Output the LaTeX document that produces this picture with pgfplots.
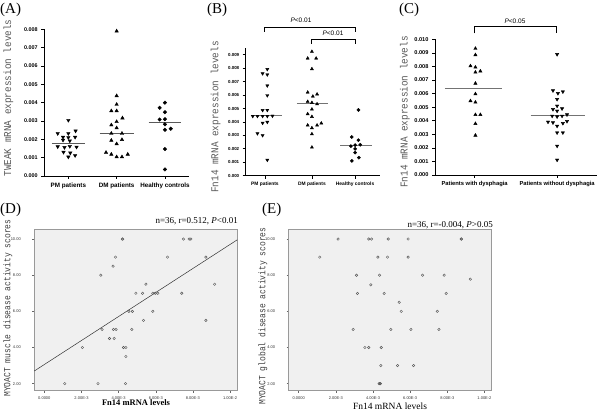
\documentclass[border=0pt]{standalone}
\usepackage{pgfplots}
\pgfplotsset{compat=1.18}
\usepackage{fontspec}
\setmainfont{Liberation Serif}
\setsansfont{Liberation Sans}
\newfontfamily\ylabA[FakeStretch=0.89]{Liberation Mono}
\newfontfamily\ylabD[FakeStretch=0.84]{Liberation Mono}
\pgfplotsset{
  dotaxis/.style={scale only axis, anchor=south west,
    axis x line*=bottom, axis y line*=left, tick align=outside,
    major tick length=3pt, axis line style={line width=0.8pt},
    every tick/.style={black,line width=0.7pt},
    scaled y ticks=false, clip=false},
  scataxis/.style={scale only axis, anchor=south west,
    width=203pt, height=161.4pt,
    xmin=-0.00054, xmax=0.01039, ymin=1.61, ymax=10.54,
    axis background/.style={fill=black!6},
    axis line style={black!40, line width=0.6pt},
    tick align=outside, tick pos=left, major tick length=2pt,
    every tick/.style={black!60,line width=0.5pt},
    scaled x ticks=false, scaled y ticks=false,
    xtick={0,0.002,0.004,0.006,0.008,0.01},
    xticklabels={0.0000,2.00E-3,4.00E-3,6.00E-3,8.00E-3,1.00E-2},
    ytick={2,4,6,8,10},
    yticklabels={2.00,4.00,6.00,8.00,10.00},
    tick label style={font=\fontsize{4}{4.5}\selectfont\sffamily, text=black!80},
    yticklabel style={xshift=-8pt},
    clip=false},
  pdot/.style={only marks, mark=o, mark size=1.25pt, mark options={black!65, line width=0.45pt}}
}
\begin{document}
\begin{tikzpicture}[x=1pt,y=1pt]
\path[use as bounding box, fill=white] (0,0) rectangle (600,412);

% ---------------- (A)
\begin{axis}[dotaxis, at={(44.2pt,236pt)}, width=144.9pt, height=146.7pt,
  xmin=0.5, xmax=3.5, ymin=0, ymax=0.008,
  xtick={1,2,3}, xticklabels={PM patients,DM patients,Healthy controls},
  ytick={0,0.001,0.002,0.003,0.004,0.005,0.006,0.007,0.008},
  yticklabels={0.000,0.001,0.002,0.003,0.004,0.005,0.006,0.007,0.008},
  yticklabel style={font=\fontsize{5.4}{6}\selectfont\sffamily\bfseries},
  xticklabel style={font=\fontsize{6.3}{7}\selectfont\sffamily\bfseries}]
\addplot[only marks, mark=triangle*, mark size=2pt, mark options={black, rotate=180}] coordinates {
(1.00,0.00304) (0.78,0.00232) (1.00,0.00232) (1.15,0.00246) (0.89,0.00212)
(1.00,0.00210) (1.14,0.00212) (0.89,0.00196) (1.03,0.00192) (0.78,0.00160)
(0.92,0.00156) (1.03,0.00162) (1.17,0.00158) (0.90,0.00130) (1.04,0.00126)
(1.00,0.00104) (1.14,0.00112)};
\addplot[only marks, mark=triangle*, mark size=2pt, mark options={black}] coordinates {
(2.00,0.00790) (2.00,0.00437) (2.00,0.00390) (1.89,0.00355) (2.00,0.00355)
(2.12,0.00316) (2.00,0.00296) (1.89,0.00278) (2.00,0.00262) (1.89,0.00232)
(2.11,0.00232) (2.11,0.00198) (1.89,0.00194) (2.00,0.00175) (1.78,0.00128)
(1.89,0.00118) (2.00,0.00104) (2.11,0.00104) (2.23,0.00118)};
\addplot[only marks, mark=*, mark size=1.8pt, mark options={black}] coordinates {
(3.00,0.00400) (2.89,0.00372) (3.00,0.00348) (2.89,0.00308) (3.00,0.00310)
(3.00,0.00282) (3.00,0.00252) (3.12,0.00258) (3.00,0.00147) (3.00,0.00036)};
\addplot[no marks, black!65, line width=0.8pt] coordinates {(0.66,0.00177) (1.34,0.00177)};
\addplot[no marks, black!65, line width=0.8pt] coordinates {(1.65,0.00233) (2.35,0.00233)};
\addplot[no marks, black!65, line width=0.8pt] coordinates {(2.66,0.00293) (3.34,0.00293)};
\end{axis}

% ---------------- (B)
\begin{axis}[dotaxis, at={(245.7pt,236.3pt)}, width=134.3pt, height=127.7pt,
  xmin=0.59, xmax=3.45, ymin=0, ymax=0.0095,
  xtick={1,2,2.92}, xticklabels={PM patients,DM patients,Healthy controls},
  ytick={0,0.001,0.002,0.003,0.004,0.005,0.006,0.007,0.008,0.009},
  yticklabels={0.000,0.001,0.002,0.003,0.004,0.005,0.006,0.007,0.008,0.009},
  yticklabel style={font=\fontsize{4.4}{5}\selectfont\sffamily\bfseries},
  xticklabel style={font=\fontsize{4.9}{5.5}\selectfont\sffamily\bfseries}]
\addplot[only marks, mark=triangle*, mark size=1.8pt, mark options={black, rotate=180}] coordinates {
(1.05,0.00792) (0.95,0.00760) (1.05,0.00752) (1.05,0.00670) (1.05,0.00597)
(0.95,0.00487) (1.05,0.00488) (0.74,0.00443) (0.84,0.00443) (0.95,0.00443)
(1.05,0.00443) (1.16,0.00445) (0.95,0.00392) (1.05,0.00399) (0.84,0.00314)
(0.95,0.00300) (1.05,0.00117)};
\addplot[only marks, mark=triangle*, mark size=1.8pt, mark options={black}] coordinates {
(2.00,0.00923) (1.91,0.00873) (2.09,0.00873) (2.00,0.00794) (1.91,0.00620)
(2.02,0.00590) (2.11,0.00606) (1.91,0.00551) (2.00,0.00543) (2.11,0.00533)
(2.00,0.00494) (1.91,0.00459) (2.00,0.00439) (1.91,0.00375) (2.00,0.00355)
(2.11,0.00375) (2.20,0.00390) (2.00,0.00310) (2.00,0.00211)};
\addplot[only marks, mark=*, mark size=1.6pt, mark options={black}] coordinates {
(2.99,0.00489) (2.85,0.00288) (2.99,0.00264) (2.92,0.00228) (3.03,0.00230)
(2.83,0.00220) (2.92,0.00200) (2.92,0.00172) (3.00,0.00134) (2.85,0.00110)};
\addplot[no marks, black!55, line width=0.8pt] coordinates {(0.72,0.00445) (1.36,0.00445)};
\addplot[no marks, black!55, line width=0.8pt] coordinates {(1.68,0.00538) (2.35,0.00538)};
\addplot[no marks, black!55, line width=0.8pt] coordinates {(2.60,0.00226) (3.27,0.00226)};
\end{axis}

% ---------------- (C)
\begin{axis}[dotaxis, at={(435pt,237pt)}, width=161.7pt, height=135.7pt,
  xmin=0.52, xmax=2.48, ymin=0, ymax=0.010,
  xtick={1,2}, xticklabels={Patients with dysphagia,Patients without dysphagia},
  ytick={0,0.001,0.002,0.003,0.004,0.005,0.006,0.007,0.008,0.009,0.010},
  yticklabels={0.000,0.001,0.002,0.003,0.004,0.005,0.006,0.007,0.008,0.009,0.010},
  yticklabel style={font=\fontsize{5.6}{6}\selectfont\sffamily\bfseries},
  xticklabel style={font=\fontsize{5.8}{6.5}\selectfont\sffamily\bfseries}]
\addplot[only marks, mark=triangle*, mark size=1.9pt, mark options={black}] coordinates {
(1.01,0.00932) (1.01,0.00885) (0.95,0.00803) (1.01,0.00794) (1.01,0.00757)
(1.07,0.00765) (1.01,0.00675) (1.01,0.00597) (0.95,0.00546) (1.01,0.00536)
(1.01,0.00444) (1.07,0.00444) (1.01,0.00378) (1.01,0.00292)};
\addplot[only marks, mark=triangle*, mark size=1.9pt, mark options={black, rotate=180}] coordinates {
(2.00,0.00889) (1.95,0.00622) (2.07,0.00614) (2.01,0.00602) (2.00,0.00558)
(2.00,0.00509) (1.95,0.00484) (2.06,0.00489) (2.00,0.00472) (1.94,0.00435)
(2.00,0.00430) (2.06,0.00435) (2.12,0.00445) (1.89,0.00391) (1.95,0.00386)
(2.00,0.00361) (2.07,0.00381) (2.12,0.00396) (2.00,0.00312) (2.07,0.00312)
(2.00,0.00214) (2.00,0.00111)};
\addplot[no marks, black!55, line width=0.8pt] coordinates {(0.64,0.00636) (1.33,0.00636)};
\addplot[no marks, black!55, line width=0.8pt] coordinates {(1.68,0.00437) (2.34,0.00437)};
\end{axis}

% ---------------- (D)
\begin{axis}[scataxis, at={(34.3pt,21.3pt)}]
\addplot[pdot] coordinates {
(0.00422,10) (0.00420,10) (0.00749,10) (0.00780,10) (0.00789,10)
(0.00383,9) (0.00663,9) (0.00870,9)
(0.00370,8.5) (0.00304,8)
(0.00547,7.5) (0.00917,7.5)
(0.00493,7) (0.00529,7) (0.00584,7) (0.00597,7) (0.00611,7) (0.00740,7)
(0.00455,6) (0.00474,6) (0.00584,6)
(0.00534,5.5) (0.00870,5.5)
(0.00311,5) (0.00372,5) (0.00386,5) (0.00471,5)
(0.00351,4.5) (0.00376,4.5)
(0.00205,4) (0.00426,4) (0.00439,4)
(0.00439,3.5)
(0.00110,2) (0.00289,2) (0.00437,2)};
\addplot[no marks, black!80, line width=0.5pt] coordinates {(-0.00054,2.70) (0.01039,9.96)};
\end{axis}

% ---------------- (E)
\begin{axis}[scataxis, at={(288.7pt,21.3pt)}]
\addplot[pdot] coordinates {
(0.00212,10) (0.00377,10) (0.00392,10) (0.00482,10) (0.00589,10) (0.00875,10) (0.00876,10)
(0.00113,9) (0.00426,9) (0.00478,9) (0.00589,9)
(0.00311,8) (0.00435,8) (0.00667,8) (0.00783,8)
(0.00924,7.78) (0.00388,7.47)
(0.00316,6.99) (0.00460,6.99) (0.00794,6.99)
(0.00541,6.50)
(0.00552,6) (0.00746,6)
(0.00293,5) (0.00496,5) (0.00604,5) (0.00755,5)
(0.00356,4) (0.00377,4) (0.00444,4)
(0.00442,3) (0.00532,3) (0.00618,3)
(0.00433,2) (0.00440,2) (0.00437,2)};
\end{axis}

% ---------------- annotations
\node[anchor=west, inner sep=0, font=\fontsize{15}{16}\selectfont] at (0,402.5) {(A)};
\node[anchor=west, inner sep=0, font=\fontsize{15}{16}\selectfont] at (207,402.5) {(B)};
\node[anchor=west, inner sep=0, font=\fontsize{15}{16}\selectfont] at (399,402.5) {(C)};
\node[anchor=west, inner sep=0, font=\fontsize{15}{16}\selectfont] at (0,202) {(D)};
\node[anchor=west, inner sep=0, font=\fontsize{15}{16}\selectfont] at (262,202) {(E)};

\node[rotate=90, text=black!65, font=\ylabA\fontsize{10.5}{11}\selectfont] at (8.3,314) {TWEAK mRNA expression levels};
\node[rotate=90, text=black!65, font=\ylabA\fontsize{10.5}{11}\selectfont] at (215.7,295) {Fn14 mRNA expression levels};
\node[rotate=90, text=black!65, font=\ylabA\fontsize{10.5}{11}\selectfont] at (405,300) {Fn14 mRNA expression levels};
\node[rotate=90, text=black!75, font=\ylabD\fontsize{9.5}{10}\selectfont] at (8,104) {MYOACT muscle disease activity scores};
\node[rotate=90, text=black!75, font=\ylabD\fontsize{9.5}{10}\selectfont] at (263,96) {MYOACT global disease activity scores};

\node[font=\fontsize{8.5}{9}\selectfont\bfseries] at (136,9) {Fn14 mRNA levels};
\node[font=\fontsize{9.5}{10}\selectfont] at (390,6) {Fn14 mRNA levels};
\node[anchor=east, inner sep=0, font=\fontsize{9}{10}\selectfont] at (238,190.3) {n=36, r=0.512, \textit{P}<0.01};
\node[anchor=east, inner sep=0, font=\fontsize{9}{10}\selectfont] at (493,187) {n=36, r=-0.004, \textit{P}>0.05};

\draw[line width=0.8pt] (264.3,380.3) -- (264.3,384.3) -- (355.3,384.3) -- (355.3,380.3);
\node[font=\fontsize{6.5}{7}\selectfont\sffamily] at (301,392) {\textit{P}<0.01};
\draw[line width=0.8pt] (311.7,368) -- (311.7,372.7) -- (355.3,372.7) -- (355.3,368);
\node[font=\fontsize{6.5}{7}\selectfont\sffamily] at (333,378.7) {\textit{P}<0.01};
\draw[line width=0.8pt] (474,378.7) -- (474,385.3) -- (556.5,385.3) -- (556.5,378.7);
\node[font=\fontsize{6.5}{7}\selectfont\sffamily] at (515,390.3) {\textit{P}<0.05};
\end{tikzpicture}
\end{document}
